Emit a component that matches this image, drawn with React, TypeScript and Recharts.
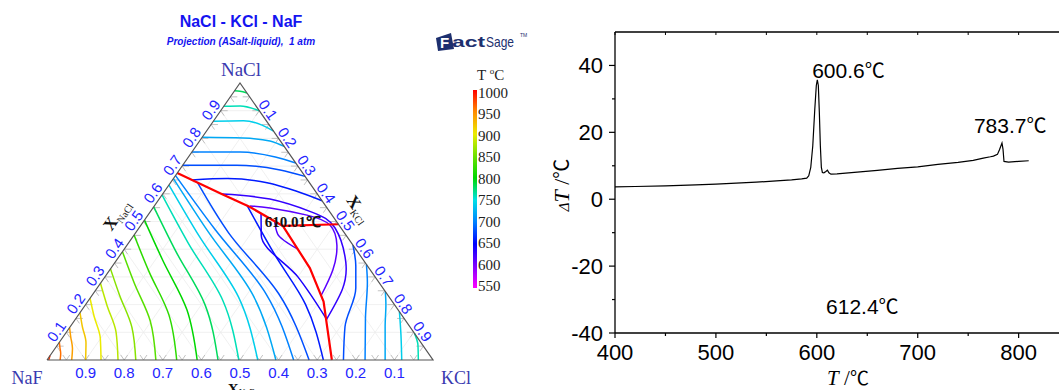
import React from 'react';
import { ComposedChart, Line, Scatter, XAxis, YAxis, ReferenceDot } from 'recharts';

// composition point in the ternary: [xNaCl, xKCl]  (xNaF = 1 - both)
type Comp = [number, number];

const SANS = '"Liberation Sans", Arial, sans-serif';
const SERIF = '"Liberation Serif", "Times New Roman", serif';
const CJK = '"Noto Sans CJK SC", sans-serif';

// ---------- ternary NaCl - KCl - NaF ----------
const COMP_TICKS = [0.1, 0.2, 0.3, 0.4, 0.5, 0.6, 0.7, 0.8, 0.9];
const EDGE_MARKS = [0.05, 0.15, 0.25, 0.35, 0.45, 0.55, 0.65, 0.75, 0.85, 0.95];

// red univariant lines
const VALLEYS: Comp[][] = [
  [[0.675, 0], [0.599, 0.153], [0.552, 0.25], [0.484, 0.369]],
  [[0.484, 0.369], [0.49, 0.51]],
  [[0.484, 0.369], [0.332, 0.515], [0.211, 0.611], [0, 0.738]],
];
const TERNARY_POINT: Comp = [0.484, 0.369];
const TERNARY_LABEL = '610.01℃';

// NaF primary field
const NAF_T = [980, 960, 940, 920, 900, 880, 860, 840, 820, 800, 780, 760, 740, 720, 700, 680, 660, 640, 620];
const NAF_LINES: Comp[][] = [
  [[0, 0.004], [0.006, 0.003], [0.011, 0.001], [0.016, 0]],
  [[0, 0.034], [0.023, 0.024], [0.045, 0.011], [0.064, 0]],
  [[0, 0.064], [0.042, 0.045], [0.083, 0.02], [0.117, 0]],
  [[0, 0.1], [0.062, 0.07], [0.121, 0.031], [0.171, 0]],
  [[0, 0.14], [0.08, 0.098], [0.158, 0.043], [0.223, 0]],
  [[0, 0.184], [0.1, 0.129], [0.197, 0.057], [0.277, 0]],
  [[0, 0.23], [0.118, 0.161], [0.234, 0.071], [0.329, 0]],
  [[0, 0.282], [0.141, 0.197], [0.278, 0.087], [0.391, 0]],
  [[0, 0.336], [0.162, 0.235], [0.32, 0.104], [0.451, 0]],
  [[0, 0.389], [0.181, 0.272], [0.361, 0.119], [0.505, 0]],
  [[0, 0.443], [0.199, 0.31], [0.393, 0.137], [0.553, 0]],
  [[0, 0.497], [0.215, 0.348], [0.423, 0.154], [0.596, 0]],
  [[0, 0.546], [0.228, 0.382], [0.449, 0.169], [0.632, 0]],
  [[0, 0.593], [0.236, 0.415], [0.465, 0.184], [0.655, 0]],
  [[0, 0.639], [0.24, 0.447], [0.473, 0.198], [0.666, 0]],
  [[0, 0.679], [0.24, 0.48], [0.46, 0.24], [0.64, 0.07]],
  [[0, 0.716], [0.2, 0.57], [0.38, 0.4], [0.557, 0.24]],
  [[0.15, 0.648], [0.3, 0.5], [0.45, 0.33], [0.529, 0.29]],
  [[0.4, 0.45], [0.455, 0.37], [0.5, 0.34]],
];

// NaCl-rich solid solution field
const NACL_T = [780, 760, 740, 720, 700, 680, 660, 630, 615];
const NACL_LINES: Comp[][] = [
  [[0.972, 0], [0.97, 0.015], [0.964, 0.036]],
  [[0.916, 0], [0.917, 0.042], [0.9, 0.1]],
  [[0.862, 0], [0.864, 0.077], [0.848, 0.133], [0.826, 0.174]],
  [[0.804, 0], [0.801, 0.108], [0.791, 0.182], [0.771, 0.229]],
  [[0.751, 0], [0.751, 0.125], [0.733, 0.225], [0.711, 0.289]],
  [[0.703, 0], [0.703, 0.14], [0.686, 0.261], [0.663, 0.337]],
  [[0.65, 0.05], [0.655, 0.14], [0.64, 0.25], [0.61, 0.34], [0.575, 0.425]],
  [[0.599, 0.154], [0.581, 0.287], [0.534, 0.419], [0.4765, 0.508], [0.354, 0.597], [0.253, 0.638], [0.144, 0.651]],
  [[0.556, 0.248], [0.549, 0.3035], [0.523, 0.412], [0.487, 0.4895], [0.415, 0.5435], [0.325, 0.578], [0.231, 0.594]],
];

// KCl-rich side
const KCL_T = [760, 740, 720, 700, 680];
const KCL_LINES: Comp[][] = [
  [[0, 0.962], [0.054, 0.934], [0.096, 0.904]],
  [[0, 0.919], [0.09, 0.872], [0.174, 0.826]],
  [[0, 0.876], [0.12, 0.816], [0.2, 0.778], [0.247, 0.753]],
  [[0, 0.824], [0.15, 0.75], [0.28, 0.69], [0.345, 0.655]],
  [[0, 0.768], [0.12, 0.712], [0.26, 0.67], [0.34, 0.63], [0.415, 0.585]],
];

// colour bar
const CBAR_T = [550, 600, 650, 700, 750, 800, 850, 900, 950, 1000];
const CBAR_RGB = [
  [255, 0, 255], [128, 0, 255], [0, 0, 255], [0, 130, 255], [0, 225, 230],
  [0, 215, 0], [110, 225, 0], [235, 235, 0], [255, 140, 0], [255, 0, 0],
];

// ---------- DTA curve ----------
const DTA_T = [400, 420, 450, 480, 500, 520, 540, 560, 575, 585, 590, 592, 594, 596, 598, 599.5, 600.5, 601.5, 602.5, 603.5,
  604.5, 605.5, 607, 609, 610.5, 612, 614, 620, 640, 660, 680, 700, 720, 740, 755, 765, 772, 775, 779, 781,
  783.5, 784.5, 785.5, 790, 800, 810];
const DTA_V = [3.7, 3.8, 4.0, 4.3, 4.5, 4.8, 5.1, 5.5, 5.8, 6.1, 6.3, 7.0, 9.5, 16, 27, 34, 35.7, 34, 26, 16,
  9.5, 8.0, 7.9, 8.3, 8.7, 7.9, 7.5, 7.6, 8.1, 8.6, 9.2, 9.7, 10.4, 11.0, 11.6, 12.3, 12.7, 12.9, 13.4, 14.8,
  16.8, 15, 11.3, 11.1, 11.3, 11.5];
const X_TICKS = [400, 450, 500, 550, 600, 650, 700, 750, 800];
const Y_TICKS = [-40, -30, -20, -10, 0, 10, 20, 30, 40];

const toXY = ([n, k]: Comp) => ({ x: k + n / 2, y: n });

function tempColor(t: number) {
  let i = 0;
  while (i < CBAR_T.length - 2 && t > CBAR_T[i + 1]) i++;
  const f = Math.min(1, Math.max(0, (t - CBAR_T[i]) / (CBAR_T[i + 1] - CBAR_T[i])));
  const c = CBAR_RGB[i].map((v, j) => Math.round(v + (CBAR_RGB[i + 1][j] - v) * f));
  return `rgb(${c[0]},${c[1]},${c[2]})`;
}

// smooth without overshoot where the isotherm is monotone in one direction
function curveFor(pts: { x: number; y: number }[]) {
  const mono = (k: 'x' | 'y') => pts.every((p, i) => i === 0 || p[k] > pts[i - 1][k]);
  if (mono('y')) return 'monotoneY';
  if (mono('x')) return 'monotoneX';
  return 'natural';
}

function gapped(segs: Comp[][]) {
  const out: { x: number; y: number | null }[] = [];
  segs.forEach((s, i) => {
    if (i) out.push({ x: toXY(s[0]).x, y: null });
    s.forEach((c) => out.push(toXY(c)));
  });
  return out;
}

function TernaryPanel() {
  const gridSegs: Comp[][] = [];
  COMP_TICKS.forEach((t) => {
    gridSegs.push([[t, 0], [t, 1 - t]]);
    gridSegs.push([[0, t], [1 - t, t]]);
    gridSegs.push([[0, 1 - t], [1 - t, 0]]);
  });
  const m = 0.018;
  const markSegs: Comp[][] = [];
  [...EDGE_MARKS, ...COMP_TICKS].forEach((t) => {
    markSegs.push([[m, t], [0, t], [m, t - m]]);
    markSegs.push([[t, m], [t, 0], [t - m, m]]);
    markSegs.push([[t, 1 - t - m], [t, 1 - t], [t - m, 1 - t]]);
  });
  const border: Comp[] = [[0, 0], [0, 1], [1, 0], [0, 0]];

  const bottomTicks = COMP_TICKS.map((t) => ({ ...toXY([0, 1 - t]), label: t.toFixed(1) }));
  const leftTicks = COMP_TICKS.map((t) => ({ ...toXY([t, 0]), label: t.toFixed(1) }));
  const rightTicks = COMP_TICKS.map((t) => ({ ...toXY([1 - t, t]), label: t.toFixed(1) }));

  const tickStyle = { fontFamily: SANS, fontSize: 15, fill: '#2424ff' };

  const iso = (lines: Comp[][], temps: number[], id: string) =>
    lines.map((pts, i) => {
      const d = pts.map(toXY);
      return (
        <Line
          key={id + i}
          data={d}
          dataKey="y"
          type={curveFor(d) as any}
          stroke={tempColor(temps[i])}
          strokeWidth={1.5}
          dot={false}
          activeDot={false}
          isAnimationActive={false}
        />
      );
    });

  return (
    <ComposedChart
      width={540}
      height={390}
      margin={{ top: 83, right: 107, bottom: 30, left: 47 }}
      style={{ position: 'absolute', left: 0, top: 0 }}
    >
      <XAxis type="number" dataKey="x" domain={[0, 1]} hide />
      <YAxis type="number" dataKey="y" domain={[0, 1]} hide />
      <Line data={gapped(gridSegs)} dataKey="y" type="linear" stroke="#ececec" strokeWidth={0.8}
        dot={false} activeDot={false} isAnimationActive={false} />
      <Line data={gapped(markSegs)} dataKey="y" type="linear" stroke="#b4b4b4" strokeWidth={0.8}
        dot={false} activeDot={false} isAnimationActive={false} />
      {iso(NAF_LINES, NAF_T, 'naf')}
      {iso(NACL_LINES, NACL_T, 'nacl')}
      {iso(KCL_LINES, KCL_T, 'kcl')}
      {VALLEYS.map((pts, i) => (
        <Line key={'v' + i} data={pts.map(toXY)} dataKey="y" type="linear" stroke="#ff0000" strokeWidth={2.2}
          dot={false} activeDot={false} isAnimationActive={false} />
      ))}
      <Line data={border.map(toXY)} dataKey="y" type="linear" stroke="#555" strokeWidth={1.2}
        dot={false} activeDot={false} isAnimationActive={false} />
      <Scatter data={bottomTicks} dataKey="y" isAnimationActive={false}
        shape={(p: any) => (
          <text x={p.cx} y={p.cy + 18} textAnchor="middle" {...tickStyle}>{p.payload.label}</text>
        )} />
      <Scatter data={leftTicks} dataKey="y" isAnimationActive={false}
        shape={(p: any) => (
          <text transform={`translate(${p.cx - 10},${p.cy - 1}) rotate(-55)`} textAnchor="middle"
            dominantBaseline="central" {...tickStyle}>{p.payload.label}</text>
        )} />
      <Scatter data={rightTicks} dataKey="y" isAnimationActive={false}
        shape={(p: any) => (
          <text transform={`translate(${p.cx + 9},${p.cy - 1}) rotate(55)`} textAnchor="middle"
            dominantBaseline="central" {...tickStyle}>{p.payload.label}</text>
        )} />
      <ReferenceDot {...toXY(TERNARY_POINT)} r={0}
        shape={(p: any) => (
          <text x={p.cx - 18} y={p.cy + 1} fontFamily={SERIF} fontWeight="bold" fontSize={15} fill="#111">
            {TERNARY_LABEL}
          </text>
        )} />
    </ComposedChart>
  );
}

const XTick = (p: any) => {
  const v = p.payload.value;
  const major = v % 100 === 0;
  return (
    <g>
      <line x1={p.x} x2={p.x} y1={p.y} y2={p.y + (major ? 5 : 3)} stroke="#000" strokeWidth={1.2} />
      {major && (
        <text x={p.x} y={p.y + 27} textAnchor="middle" fontFamily={SANS} fontSize={22} fill="#000">{v}</text>
      )}
    </g>
  );
};

const TopTick = (p: any) => (
  <line x1={p.x} x2={p.x} y1={p.y} y2={p.y + 3} stroke="#000" strokeWidth={1} />
);

const YTick = (p: any) => {
  const v = p.payload.value;
  const major = v % 20 === 0;
  return (
    <g>
      <line x1={p.x - (major ? 6 : 3)} x2={p.x} y1={p.y} y2={p.y} stroke="#000" strokeWidth={1.2} />
      {major && (
        <text x={p.x - 12} y={p.y + 8} textAnchor="end" fontFamily={SANS} fontSize={22} fill="#000">{v}</text>
      )}
    </g>
  );
};

function PeakLabel(dx: number, dy: number, text: string) {
  return (p: any) => (
    <text x={p.cx + dx} y={p.cy + dy} textAnchor="middle" fontFamily={SANS} fontSize={21} fill="#000">
      {text}
      <tspan fontFamily={CJK} fontSize={20}>℃</tspan>
    </text>
  );
}

function DtaPanel() {
  const data = DTA_T.map((t, i) => ({ t, v: DTA_V[i] }));
  return (
    <ComposedChart
      width={519}
      height={390}
      data={data}
      margin={{ top: 2, right: 0, bottom: 0, left: 0 }}
      style={{ position: 'absolute', left: 540, top: 0 }}
    >
      <XAxis xAxisId="b" dataKey="t" type="number" domain={[400, 840]} ticks={X_TICKS} interval={0}
        height={57} tickSize={0} tickMargin={0} tickLine={false} tick={XTick}
        axisLine={{ stroke: '#000', strokeWidth: 1.3 }} />
      <XAxis xAxisId="top" orientation="top" dataKey="t" type="number" domain={[400, 840]} ticks={X_TICKS}
        interval={0} height={30} tickSize={0} tickMargin={0} tickLine={false} tick={TopTick}
        axisLine={{ stroke: '#000', strokeWidth: 1.3 }} />
      <YAxis dataKey="v" type="number" domain={[-40, 50]} ticks={Y_TICKS} interval={0} width={75}
        tickSize={0} tickMargin={0} tickLine={false} tick={YTick}
        axisLine={{ stroke: '#000', strokeWidth: 1.3 }} />
      <Line xAxisId="b" dataKey="v" type="linear" stroke="#000" strokeWidth={1.2} dot={false}
        activeDot={false} isAnimationActive={false} />
      <ReferenceDot xAxisId="b" x={600.6} y={35.7} r={0} shape={PeakLabel(31, -2, '600.6')} />
      <ReferenceDot xAxisId="b" x={783.7} y={16.8} r={0} shape={PeakLabel(8, -10, '783.7')} />
      <ReferenceDot xAxisId="b" x={612.4} y={-34} r={0} shape={PeakLabel(33, 1, '612.4')} />
    </ComposedChart>
  );
}

function Decorations() {
  const navy = '#1d2f6e';
  const blue = '#1414f0';
  const vtx = '#3a3ab0';
  return (
    <svg width={1059} height={390} style={{ position: 'absolute', left: 0, top: 0, pointerEvents: 'none' }}>
      <defs>
        <linearGradient id="cbar" x1="0" y1="1" x2="0" y2="0">
          {CBAR_T.map((t, i) => (
            <stop key={t} offset={`${(i / (CBAR_T.length - 1)) * 100}%`}
              stopColor={`rgb(${CBAR_RGB[i].join(',')})`} />
          ))}
        </linearGradient>
      </defs>
      <text x={241} y={27} textAnchor="middle" fontFamily={SANS} fontWeight="bold" fontSize={16} fill={blue}>
        NaCl - KCl - NaF
      </text>
      <text x={241} y={44.5} textAnchor="middle" fontFamily={SANS} fontWeight="bold" fontStyle="italic"
        fontSize={10} fill={blue} xmlSpace="preserve">
        Projection (ASalt-liquid),  1 atm
      </text>

      {/* FactSage logo */}
      <polygon points="436,38 451,33 454,49 438,51" fill={navy} />
      <text x={440} y={48} fontFamily={SANS} fontWeight="bold" fontSize={15} fill="#fff">F</text>
      <text x={452} y={47} fontFamily={SANS} fontWeight="bold" fontSize={15} fill={navy}
        textLength={33} lengthAdjust="spacingAndGlyphs">act</text>
      <text x={486} y={47} fontFamily={SANS} fontSize={15} fill={navy}
        textLength={28} lengthAdjust="spacingAndGlyphs">Sage</text>
      <text x={520} y={37} fontFamily={SANS} fontSize={5} fill={navy}>TM</text>

      {/* vertex labels */}
      <text x={241} y={75.5} textAnchor="middle" fontFamily={SERIF} fontSize={19} fill={vtx}>NaCl</text>
      <text x={27} y={383.5} textAnchor="middle" fontFamily={SERIF} fontSize={18} fill={vtx}>NaF</text>
      <text x={456} y={383.5} textAnchor="middle" fontFamily={SERIF} fontSize={18} fill={vtx}>KCl</text>

      {/* composition axis titles */}
      <text transform="translate(121,218) rotate(-55)" textAnchor="middle" fontFamily={SERIF} fill="#111">
        <tspan fontWeight="bold" fontSize={17}>X</tspan>
        <tspan fontSize={10} dy={4}>NaCl</tspan>
      </text>
      <text transform="translate(354,212) rotate(55)" textAnchor="middle" fontFamily={SERIF} fill="#111">
        <tspan fontWeight="bold" fontSize={17}>X</tspan>
        <tspan fontSize={10} dy={4}>KCl</tspan>
      </text>
      <text x={241} y={394} textAnchor="middle" fontFamily={SERIF} fill="#111">
        <tspan fontWeight="bold" fontSize={15}>X</tspan>
        <tspan fontSize={9} dy={1}>NaF</tspan>
      </text>

      {/* colour bar */}
      <text x={477} y={80} fontFamily={SERIF} fontSize={15} fill="#222">
        T <tspan fontSize={9} dy={-6}>o</tspan><tspan dy={6}>C</tspan>
      </text>
      <rect x={473} y={90} width={4} height={198} fill="url(#cbar)" />
      {[...CBAR_T].reverse().map((t, i) => (
        <text key={t} x={478} y={98 + i * 21.45} fontFamily={SERIF} fontSize={15} fill="#222">{t}</text>
      ))}

      {/* DTA axis titles */}
      <text x={848} y={385} textAnchor="middle" fontFamily={SERIF} fontSize={21} fill="#000">
        <tspan fontStyle="italic">T</tspan> /<tspan fontFamily={CJK} fontSize={19}>℃</tspan>
      </text>
      <text transform="translate(569,185) rotate(-90)" textAnchor="middle" fontFamily={SERIF} fontSize={22}
        fill="#000">
        <tspan fontSize={15} fontStyle="italic">Δ</tspan>
        <tspan fontStyle="italic">T</tspan> /<tspan fontFamily={CJK} fontSize={20}>℃</tspan>
      </text>
    </svg>
  );
}

export default function App() {
  return (
    <div style={{ position: 'absolute', left: 0, top: 0, width: 1059, height: 390, overflow: 'hidden', background: '#fff' }}>
      <TernaryPanel />
      <DtaPanel />
      <Decorations />
    </div>
  );
}
